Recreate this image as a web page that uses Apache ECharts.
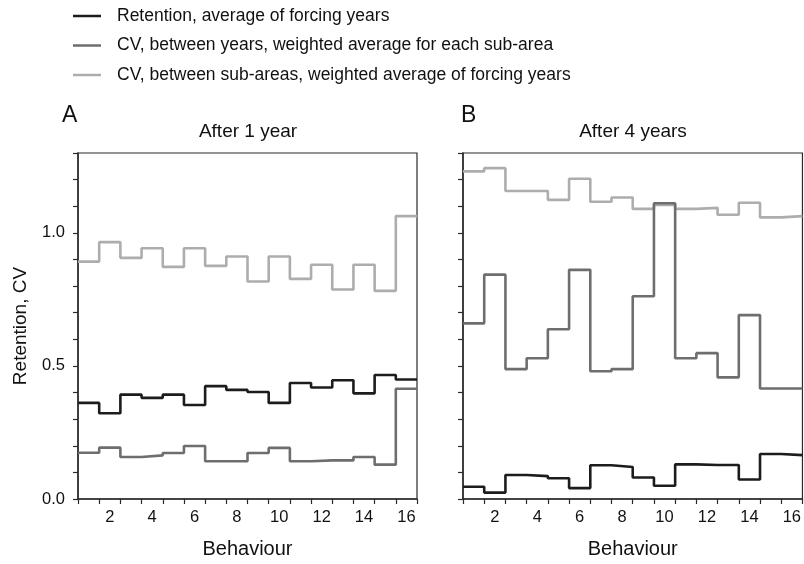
<!DOCTYPE html>
<html>
<head>
<meta charset="utf-8">
<script src="https://cdn.jsdelivr.net/npm/echarts@6/dist/echarts.min.js"></script>
<style>
  html, body { margin: 0; padding: 0; background: #fff; }
  #chart { width: 804px; height: 564px; }
</style>
</head>
<body>
<div id="chart"></div>
<script>
// behaviours 1..16, one step per behaviour
const behaviours = [1, 2, 3, 4, 5, 6, 7, 8, 9, 10, 11, 12, 13, 14, 15, 16];

// A: after 1 year
const retentionA = [0.361, 0.322, 0.392, 0.380, 0.392, 0.353, 0.424, 0.410, 0.402, 0.361, 0.436, 0.419, 0.446, 0.397, 0.466, 0.449];
const cvYearsA = [0.174, 0.193, 0.158, 0.164, 0.173, 0.199, 0.142, 0.142, 0.173, 0.192, 0.142, 0.145, 0.145, 0.158, 0.129, 0.414];
const cvAreasA = [0.892, 0.965, 0.906, 0.942, 0.872, 0.942, 0.876, 0.911, 0.817, 0.911, 0.827, 0.880, 0.787, 0.880, 0.782, 1.063];

// B: after 4 years
const retentionB = [0.046, 0.024, 0.090, 0.086, 0.078, 0.041, 0.127, 0.120, 0.081, 0.050, 0.130, 0.128, 0.128, 0.073, 0.169, 0.165];
const cvYearsB = [0.660, 0.843, 0.488, 0.529, 0.638, 0.861, 0.480, 0.488, 0.762, 1.111, 0.529, 0.548, 0.457, 0.691, 0.415, 0.415];
const cvAreasB = [1.231, 1.243, 1.157, 1.157, 1.124, 1.203, 1.117, 1.133, 1.090, 1.105, 1.090, 1.094, 1.068, 1.113, 1.058, 1.063];

const yTicks = [0, 0.5, 1.0];

const names = [
  "Retention, average of forcing years",
  "CV, between years, weighted average for each sub-area",
  "CV, between sub-areas, weighted average of forcing years"
];
const colors = ["#1c1c1c", "#6e6e70", "#adadb0"];
const font = "Liberation Sans, Arial, sans-serif";
const axisColor = "#2a2a2a";

// each value holds from the left edge of its bin to the right edge
const steps = (vals) => {
  let pts = behaviours.map((b, i) => [b - 0.5, vals[i]]);
  pts.push([behaviours[behaviours.length - 1] + 0.5, vals[vals.length - 1]]);
  return pts;
};

const grids = [
  { left: 78, top: 153, width: 339, height: 347, show: true, borderColor: axisColor, borderWidth: 1.2 },
  { left: 463, top: 153, width: 340, height: 347, show: true, borderColor: axisColor, borderWidth: 1.2 }
];

const xAxes = [];
const yAxes = [];
[0, 1].forEach((g) => {
  xAxes.push({
    type: "category",
    gridIndex: g,
    data: behaviours,
    boundaryGap: true,
    name: "Behaviour",
    nameLocation: "middle",
    nameGap: 40,
    nameTextStyle: { fontSize: 20, color: "#111", fontFamily: font },
    axisLine: { lineStyle: { color: axisColor, width: 1.5 } },
    axisTick: { show: true, interval: 0, length: 5, lineStyle: { color: axisColor, width: 1.2 } },
    axisLabel: {
      interval: (i) => i % 2 === 1,
      fontSize: 16.5, color: "#111", fontFamily: font, margin: 10
    },
    splitLine: { show: false }
  });
  xAxes.push({
    type: "value",
    gridIndex: g,
    min: 0.5,
    max: 16.5,
    show: false
  });
  yAxes.push({
    type: "value",
    gridIndex: g,
    min: 0,
    max: 1.3,
    interval: 0.1,
    name: g === 0 ? "Retention, CV" : "",
    nameLocation: "middle",
    nameGap: 48,
    nameTextStyle: { fontSize: 19, color: "#111", fontFamily: font },
    axisLine: { show: true, lineStyle: { color: axisColor, width: 1.5 } },
    axisTick: { show: true, length: 5, lineStyle: { color: axisColor, width: 1.2 } },
    axisLabel: {
      show: g === 0,
      fontSize: 16.5, color: "#111", fontFamily: font, margin: 13,
      formatter: (v) => {
        let hit = yTicks.find((t) => Math.abs(t - v) < 1e-6);
        return hit !== undefined ? hit.toFixed(1) : "";
      }
    },
    splitLine: { show: false }
  });
});

const mk = (name, vals, g, c) => ({
  name: name,
  type: "line",
  xAxisIndex: g * 2 + 1,
  yAxisIndex: g,
  step: "end",
  symbol: "none",
  data: steps(vals),
  lineStyle: { color: colors[c], width: 2.6 },
  itemStyle: { color: colors[c] },
  z: 5 - c
});

const series = [
  mk(names[2], cvAreasA, 0, 2),
  mk(names[1], cvYearsA, 0, 1),
  mk(names[0], retentionA, 0, 0),
  mk(names[2], cvAreasB, 1, 2),
  mk(names[1], cvYearsB, 1, 1),
  mk(names[0], retentionB, 1, 0)
];

const chart = echarts.init(document.getElementById("chart"), null, { renderer: "canvas" });
chart.setOption({
  animation: false,
  backgroundColor: "#fff",
  textStyle: { fontFamily: font },
  title: [
    { text: "A", left: 62, top: 104, padding: 0, textStyle: { fontSize: 23, fontWeight: "normal", color: "#111" } },
    { text: "After 1 year", left: 248, top: 122, padding: 0, textAlign: "center", textStyle: { fontSize: 19, fontWeight: "normal", color: "#111" } },
    { text: "B", left: 461, top: 104, padding: 0, textStyle: { fontSize: 23, fontWeight: "normal", color: "#111" } },
    { text: "After 4 years", left: 633, top: 122, padding: 0, textAlign: "center", textStyle: { fontSize: 19, fontWeight: "normal", color: "#111" } }
  ],
  legend: {
    data: names,
    orient: "vertical",
    left: 73,
    top: 7,
    padding: 0,
    icon: "rect",
    itemWidth: 28,
    itemHeight: 2.5,
    itemGap: 11.5,
    textStyle: { fontSize: 17.5, color: "#111", padding: [0, 0, 0, 11] }
  },
  grid: grids,
  xAxis: xAxes,
  yAxis: yAxes,
  series: series
});
</script>
</body>
</html>
